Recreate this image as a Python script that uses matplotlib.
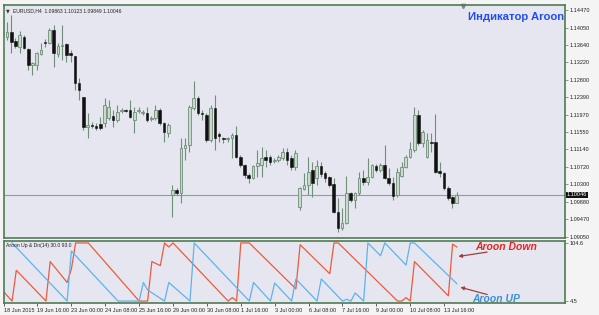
import matplotlib
matplotlib.use('Agg')
import matplotlib.pyplot as plt
import numpy as np

# EURUSD H4 candles
opens = [1.1359, 1.1383, 1.1395, 1.1373, 1.1359, 1.1383, 1.1354, 1.1316, 1.1316, 1.1342,
         1.1371, 1.1368, 1.1399, 1.1342, 1.1361, 1.1366, 1.1344, 1.1337, 1.1273, 1.1239,
         1.1167, 1.1172, 1.1170, 1.1175, 1.1177, 1.1189, 1.1194, 1.1184, 1.1206, 1.1208,
         1.1208, 1.1184, 1.1206, 1.1201, 1.1201, 1.1187, 1.1189, 1.1208, 1.1177, 1.1153,
         1.1005, 1.1017, 1.1010, 1.1117, 1.1124, 1.1213, 1.1237, 1.1201, 1.1196, 1.1136,
         1.1213, 1.1151, 1.1141, 1.1139, 1.1141, 1.1148, 1.1096, 1.1077, 1.1053, 1.1046,
         1.1074, 1.1077, 1.1096, 1.1096, 1.1086, 1.1089, 1.1093, 1.1108, 1.1093, 1.1072,
         1.0976, 1.1019, 1.1029, 1.1065, 1.1046, 1.1074, 1.1058, 1.1048, 1.1031, 1.0964,
         1.0926, 1.0938, 1.1010, 1.0993, 1.1010, 1.1046, 1.1036, 1.1048, 1.1074, 1.1065,
         1.1077, 1.1046, 1.1034, 1.1005, 1.1050, 1.1072, 1.1096, 1.1112, 1.1196, 1.1129,
         1.1096, 1.1132, 1.1132, 1.1062, 1.1058, 1.1022, 1.1000, 1.09863]
highs = [1.1423, 1.1418, 1.1435, 1.1380, 1.1397, 1.1387, 1.1356, 1.1323, 1.1347, 1.1368,
         1.1378, 1.1404, 1.1411, 1.1368, 1.1411, 1.1368, 1.1351, 1.1337, 1.1285, 1.1239,
         1.1201, 1.1179, 1.1177, 1.1191, 1.1237, 1.1232, 1.1208, 1.1220, 1.1213, 1.1211,
         1.1232, 1.1215, 1.1215, 1.1208, 1.1215, 1.1194, 1.1220, 1.1213, 1.1179, 1.1177,
         1.1029, 1.1022, 1.1141, 1.1141, 1.1220, 1.1277, 1.1242, 1.1208, 1.1201, 1.1220,
         1.1244, 1.1155, 1.1144, 1.1144, 1.1153, 1.1170, 1.1101, 1.1079, 1.1058, 1.1077,
         1.1112, 1.1120, 1.1112, 1.1101, 1.1093, 1.1101, 1.1117, 1.1117, 1.1101, 1.1112,
         1.1024, 1.1058, 1.1096, 1.1084, 1.1089, 1.1084, 1.1062, 1.1050, 1.1046, 1.0998,
         1.0974, 1.1050, 1.1012, 1.1012, 1.1060, 1.1065, 1.1093, 1.1079, 1.1079, 1.1081,
         1.1124, 1.1069, 1.1048, 1.1069, 1.1084, 1.1101, 1.1132, 1.1215, 1.1208, 1.1160,
         1.1153, 1.1153, 1.1199, 1.1084, 1.1060, 1.1026, 1.1003, 1.10123]
lows = [1.1340, 1.1375, 1.1344, 1.1356, 1.1344, 1.1354, 1.1304, 1.1292, 1.1304, 1.1340,
        1.1359, 1.1366, 1.1311, 1.1335, 1.1328, 1.1323, 1.1323, 1.1256, 1.1232, 1.1160,
        1.1141, 1.1165, 1.1160, 1.1160, 1.1167, 1.1184, 1.1167, 1.1179, 1.1201, 1.1203,
        1.1189, 1.1153, 1.1201, 1.1196, 1.1179, 1.1182, 1.1184, 1.1172, 1.1132, 1.1144,
        1.0952, 1.1005, 1.0986, 1.1089, 1.1108, 1.1208, 1.1196, 1.1184, 1.1132, 1.1132,
        1.1112, 1.1132, 1.1129, 1.1132, 1.1093, 1.1093, 1.1072, 1.1046, 1.1034, 1.1043,
        1.1048, 1.1048, 1.1072, 1.1077, 1.1081, 1.1084, 1.1089, 1.1077, 1.1065, 1.1065,
        1.0969, 1.1017, 1.1005, 1.1000, 1.1029, 1.1048, 1.1036, 1.1024, 1.0962, 1.0916,
        1.0921, 1.0936, 1.0988, 1.0974, 1.1005, 1.1029, 1.1029, 1.1046, 1.1060, 1.1060,
        1.1043, 1.1029, 1.0993, 1.1000, 1.1048, 1.1069, 1.1093, 1.1108, 1.1124, 1.1120,
        1.1093, 1.1108, 1.1058, 1.1048, 1.1017, 1.0993, 1.0974, 1.09849]
closes = [1.1383, 1.1395, 1.1371, 1.1361, 1.1387, 1.1356, 1.1316, 1.1320, 1.1344, 1.1351,
          1.1368, 1.1399, 1.1344, 1.1361, 1.1363, 1.1340, 1.1340, 1.1273, 1.1256, 1.1167,
          1.1172, 1.1170, 1.1165, 1.1165, 1.1220, 1.1215, 1.1184, 1.1203, 1.1208, 1.1206,
          1.1191, 1.1203, 1.1208, 1.1203, 1.1184, 1.1189, 1.1208, 1.1177, 1.1155, 1.1172,
          1.1017, 1.1010, 1.1117, 1.1124, 1.1215, 1.1237, 1.1201, 1.1199, 1.1136, 1.1213,
          1.1141, 1.1146, 1.1139, 1.1141, 1.1148, 1.1096, 1.1077, 1.1053, 1.1046, 1.1074,
          1.1081, 1.1093, 1.1089, 1.1084, 1.1089, 1.1096, 1.1108, 1.1089, 1.1072, 1.1105,
          1.1022, 1.1029, 1.1060, 1.1034, 1.1074, 1.1055, 1.1046, 1.1029, 1.0964, 1.0926,
          1.0938, 1.1010, 1.0993, 1.1010, 1.1046, 1.1036, 1.1048, 1.1077, 1.1065, 1.1077,
          1.1046, 1.1034, 1.1003, 1.1060, 1.1072, 1.1096, 1.1115, 1.1196, 1.1129, 1.1155,
          1.1136, 1.1129, 1.1060, 1.1058, 1.1022, 1.0998, 1.0986, 1.10046]

# Aroon(14) turning points (bar index, value)
down_idx = [0, 2, 3, 10, 11, 15, 16, 17, 20, 32, 34, 35, 37, 38, 39, 40, 53, 54, 55, 56,
            58, 69, 70, 77, 78, 79, 93, 94, 95, 96, 97, 105, 106, 107]
down_val = [16, 0, 53, 0, 68, 32, 55, 100, 100, 0, 0, 68, 61, 100, 93, 100, 0, 6, 0, 100,
            100, 21, 97, 47, 100, 100, 0, 0, 6, 0, 68, 9, 98, 93]
up_idx = [2, 15, 16, 27, 32, 33, 34, 38, 39, 44, 45, 58, 59, 63, 64, 68, 69, 74, 75, 80,
          81, 82, 83, 85, 86, 89, 90, 95, 96, 97, 107]
up_val = [100, 0, 86, 0, 0, 32, 19, 0, 32, 0, 100, 0, 32, 0, 31, 0, 38, 0, 38, 0,
          3, 0, 14, 0, 100, 78, 100, 62, 100, 100, 30]

price_ticks = [1.14470, 1.14050, 1.13640, 1.13220, 1.12800, 1.12390, 1.11970, 1.11550,
               1.11140, 1.10720, 1.10300, 1.09880, 1.09470, 1.09050]
date_pos = [0, 8, 16, 24, 32, 40, 48, 56, 64, 72, 80, 88, 96, 104]
date_labels = ['18 Jun 2015', '19 Jun 16:00', '23 Jun 00:00', '24 Jun 08:00', '25 Jun 16:00',
               '29 Jun 00:00', '30 Jun 08:00', '1 Jul 16:00', '3 Jul 00:00', '6 Jul 08:00',
               '7 Jul 16:00', '9 Jul 00:00', '10 Jul 08:00', '13 Jul 16:00']
last_price = 1.10046

BG = '#e6e6f0'
FRAME = '#4f7a55'
WICK = '#6f8f78'
BULL = '#c9d9cb'
BEAR = '#111111'

plt.rcParams['font.family'] = ['Liberation Sans', 'DejaVu Sans']

fig = plt.figure(figsize=(5.99, 3.15), dpi=100)
fig.patch.set_facecolor('#f4f4f4')

ax = fig.add_axes([0.006, 0.245, 0.937, 0.739])
ax2 = fig.add_axes([0.006, 0.038, 0.937, 0.197])

xmin, xmax = 0.2, 132.5
for a in (ax, ax2):
    a.set_facecolor(BG)
    a.set_xlim(xmin, xmax)
    for s in a.spines.values():
        s.set_color(FRAME)
        s.set_linewidth(1.2)
    a.tick_params(axis='both', labelsize=4, colors='#222222', length=2, width=0.5,
                  pad=1.5)
    a.tick_params(axis='y', colors=FRAME, labelcolor='#222222')
    a.yaxis.tick_right()

# candles
x = np.arange(len(opens))
o = np.array(opens)
h = np.array(highs)
l = np.array(lows)
c = np.array(closes)
ax.vlines(x, l, h, color=WICK, linewidth=0.8, zorder=2)
bot = np.minimum(o, c)
hgt = np.maximum(np.abs(c - o), 0.00008)
up = c >= o
ax.bar(x[up], hgt[up], bottom=bot[up], width=0.62, color=BULL, edgecolor=WICK,
       linewidth=0.6, zorder=3)
ax.bar(x[~up], hgt[~up], bottom=bot[~up], width=0.62, color=BEAR, edgecolor=BEAR,
       linewidth=0.4, zorder=3)

ax.axhline(last_price, color='#7fa6a2', linewidth=0.8, zorder=1)
ax.set_ylim(1.0902, 1.1459)
ax.set_yticks(price_ticks)
ax.set_yticklabels(['%.5f' % p for p in price_ticks])
ax.set_xticks([])
ax.text(1.003, last_price, '%.5f' % last_price, transform=ax.get_yaxis_transform(),
        fontsize=4, color='white', va='center', ha='left',
        bbox=dict(boxstyle='square,pad=0.15', fc='#111111', ec='none'))

ax.text(0.004, 0.985, '\u25bc', transform=ax.transAxes, fontsize=3.5, color='#333333',
        va='top', ha='left', family=['DejaVu Sans'])
ax.text(0.016, 0.985, 'EURUSD,H4  1.09863 1.10123 1.09849 1.10046', transform=ax.transAxes,
        fontsize=3.6, color='#222222', va='top', ha='left')
ax.text(0.998, 0.97, 'Индикатор Aroon', transform=ax.transAxes, fontsize=8.1,
        fontweight='bold', color='#1f4cf5', va='top', ha='right')
ax.plot([108.4], [1.1457], marker='v', markersize=3, color='#6f8f78', clip_on=False)

# Aroon window
ax2.plot(down_idx, down_val, color='#ee5a3c', linewidth=0.9)
ax2.plot(up_idx, up_val, color='#5db3ef', linewidth=0.9)
ax2.set_ylim(-3.4, 103.4)
ax2.set_yticks([100, 0])
ax2.set_yticklabels(['104.6', '4.5'])
ax2.set_xticks(date_pos)
ax2.set_xticklabels(date_labels, ha='left')
ax2.text(0.004, 0.96, 'Aroon Up & Dn(14) 30.0 93.0', transform=ax2.transAxes,
         fontsize=3.6, color='#222222', va='top', ha='left')

ax2.annotate('', xy=(106.7, 76), xytext=(114.8, 85),
             arrowprops=dict(arrowstyle='-|>', color='#a0403a', lw=0.9, mutation_scale=5))
ax2.annotate('', xy=(107.2, 25), xytext=(114.8, 10),
             arrowprops=dict(arrowstyle='-|>', color='#a0403a', lw=0.9, mutation_scale=5))
ax2.text(111.4, 102, 'Aroon Down', fontsize=7.5, fontweight='bold', style='italic',
         color='#e8241c', va='top', ha='left')
ax2.text(110.6, 4, 'Aroon UP', fontsize=7.5, fontweight='bold', style='italic',
         color='#3c90d8', va='center', ha='left')

fig.savefig('out.png', dpi=100, facecolor=fig.get_facecolor())
